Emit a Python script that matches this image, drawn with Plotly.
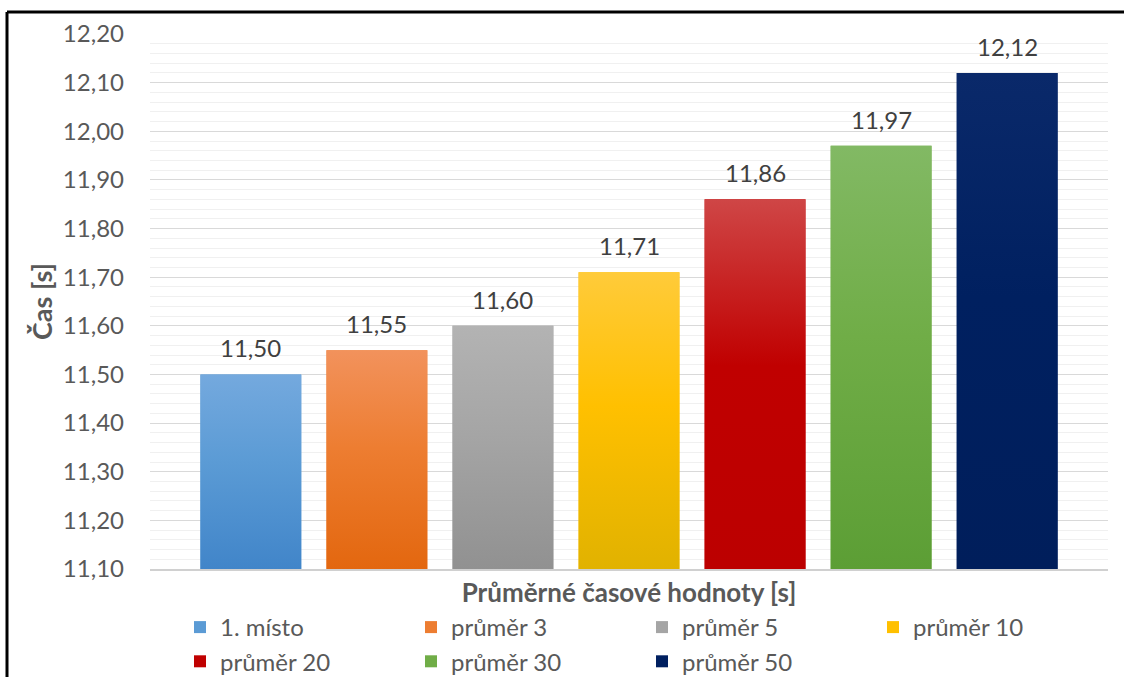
import plotly.graph_objects as go

categories = ["1. místo", "průměr 3", "průměr 5", "průměr 10", "průměr 20", "průměr 30", "průměr 50"]
values = [11.50, 11.55, 11.60, 11.71, 11.86, 11.97, 12.12]
colors = ["#5b9bd5", "#ed7d31", "#a5a5a5", "#ffc000", "#c00000", "#70ad47", "#002060"]
top_colors = ["#74a9de", "#f2925c", "#b3b3b3", "#ffcb3a", "#cf4646", "#82b964", "#0a296a"]
bottom_colors = ["#4185c9", "#e3670f", "#919191", "#e1b200", "#bc0000", "#5c9e35", "#001e5b"]
y_title = "Čas [s]"
x_title = "Průměrné časové hodnoty [s]"
y_min, y_max = 11.10, 12.20

W, H = 1124, 677
ML, MR, MT, MB = 150, 16, 34, 108
PW, PH = W - ML - MR, H - MT - MB
FONT = "Lato, 'Open Sans', sans-serif"
BAR_W = 0.8

fig = go.Figure()
positions = list(range(len(categories)))
for i, (cat, val, col) in enumerate(zip(categories, values, colors)):
    fig.add_trace(go.Bar(
        x=[positions[i]], y=[val - y_min], base=y_min, name=cat,
        marker=dict(color=col, line=dict(width=0)),
        width=BAR_W, hoverinfo="skip",
    ))
for i, (cat, val) in enumerate(zip(categories, values)):
    x0, x1 = positions[i] - BAR_W / 2, positions[i] + BAR_W / 2
    fig.add_trace(go.Scatter(
        x=[x0, x1, x1, x0, x0], y=[y_min, y_min, val, val, y_min],
        mode="lines", line=dict(width=0), fill="toself",
        fillgradient=dict(type="vertical",
                          colorscale=[[0, bottom_colors[i]], [0.55, colors[i]], [1, top_colors[i]]]),
        showlegend=False, hoverinfo="skip",
    ))
    fig.add_annotation(x=positions[i], y=val, text=f"{val:.2f}".replace(".", ","),
                       showarrow=False, yanchor="bottom", yshift=10,
                       font=dict(family=FONT, size=24, color="#404040"))

def px_x(p):
    return (p - ML) / PW

def px_y(p):
    return 1 - (p - MT) / PH

frame = dict(color="black", width=3)
fig.add_shape(type="line", xref="paper", yref="paper",
              x0=px_x(7), x1=px_x(W + 5), y0=px_y(12), y1=px_y(12), line=frame)
fig.add_shape(type="line", xref="paper", yref="paper",
              x0=px_x(7), x1=px_x(7), y0=px_y(12), y1=px_y(H + 5), line=frame)

fig.update_layout(
    width=W, height=H,
    margin=dict(l=ML, r=MR, t=MT, b=MB, pad=0, autoexpand=False),
    paper_bgcolor="white", plot_bgcolor="white",
    barmode="overlay",
    separators=", ",
    font=dict(family=FONT, color="#595959"),
    showlegend=True,
    legend=dict(orientation="h", x=px_x(180), xanchor="left", y=px_y(605), yanchor="top",
                entrywidth=186, entrywidthmode="pixels",
                font=dict(family=FONT, size=24, color="#595959"),
                traceorder="normal", itemclick=False, tracegroupgap=0),
    xaxis=dict(range=[-0.8, 6.8], showticklabels=False, ticks="", zeroline=False,
               showgrid=False, showline=True, linecolor="#d0d0d0", linewidth=1.5,
               title=dict(text=f"<b>{x_title}</b>", standoff=14,
                          font=dict(family=FONT, size=26, color="#595959"))),
    yaxis=dict(range=[y_min, y_max], dtick=0.1, tickformat=".2f", ticks="",
               showgrid=True, gridcolor="#d9d9d9", gridwidth=1, zeroline=False,
               tickfont=dict(family=FONT, size=24, color="#595959"),
               ticklabelstandoff=25,
               minor=dict(dtick=0.02, showgrid=True, gridcolor="#f0f0f0", gridwidth=1),
               title=dict(text=f"<b>{y_title}</b>", standoff=2,
                          font=dict(family=FONT, size=27, color="#595959"))),
)

fig.write_html("out.html")
